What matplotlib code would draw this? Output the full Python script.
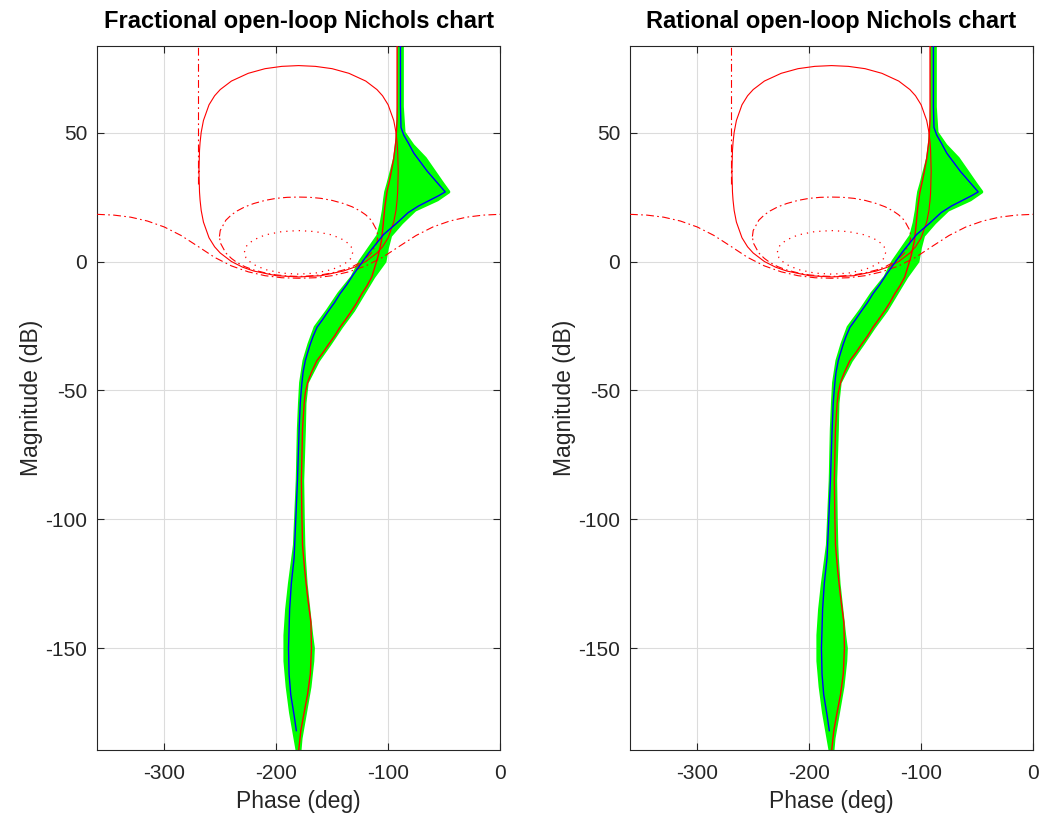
import matplotlib
matplotlib.use("Agg")
import matplotlib.pyplot as plt

plt.rcParams['font.family'] = ['Liberation Sans', 'DejaVu Sans']
plt.rcParams['axes.unicode_minus'] = False

titles = ["Fractional open-loop Nichols chart", "Rational open-loop Nichols chart"]
x_ticks = [-300, -200, -100, 0]
y_ticks = [-150, -100, -50, 0, 50]

# closed-loop contours (phase deg, magnitude dB)
m1_phase = [-360, -345, -330, -315, -300, -285, -270, -255, -240, -225, -210, -195, -180,
            -165, -150, -135, -120, -105, -90, -75, -60, -45, -30, -15, 0]
m1_mag = [18.3, 18.0, 17.2, 15.7, 13.4, 10.1, 5.9, 1.6, -1.7, -4.0, -5.5, -6.3, -6.5,
          -6.3, -5.5, -4.0, -1.7, 1.6, 5.9, 10.1, 13.4, 15.7, 17.2, 18.0, 18.3]

m05_phase = [-250.7, -250, -245, -240, -235, -228, -220, -210, -200, -190, -180, -170, -160,
             -150, -140, -132, -125, -120, -115, -110, -109.3,
             -110, -115, -120, -125, -132, -140, -150, -160, -170, -180, -190, -200,
             -210, -220, -228, -235, -240, -245, -250, -250.7]
m05_mag = [9.7, 12.0, 16.0, 18.1, 19.6, 21.2, 22.5, 23.7, 24.5, 24.9, 25.0, 24.9, 24.5,
           23.7, 22.5, 21.2, 19.6, 18.1, 16.0, 12.0, 9.7,
           7.3, 3.3, 1.2, -0.4, -2.0, -3.3, -4.4, -5.2, -5.6, -5.8, -5.6, -5.2,
           -4.4, -3.3, -2.0, -0.4, 1.2, 3.3, 7.3, 9.7]

m25_phase = [-228.4, -227, -225, -220, -210, -195, -180, -165, -150, -140, -135, -133, -131.6,
             -133, -135, -140, -150, -165, -180, -195, -210, -220, -225, -227, -228.4]
m25_mag = [3.6, 5.7, 6.8, 8.4, 10.3, 11.6, 12.0, 11.6, 10.3, 8.4, 6.8, 5.7, 3.6,
           1.4, 0.4, -1.2, -3.1, -4.5, -4.9, -4.5, -3.1, -1.2, 0.4, 1.4, 3.6]

m0_phase = [-269, -268.5, -268, -267, -265, -260, -255, -250, -240, -225, -210, -195, -180,
            -165, -150, -135, -120, -110, -105, -100, -95, -93, -92, -91.5, -91,
            -91.5, -92, -93, -95, -100, -105, -110, -120, -130, -140, -160, -180,
            -200, -220, -230, -240, -250, -255, -260, -265, -267, -268, -268.5, -269]
m0_mag = [35, 43.1, 46.2, 50.1, 54.7, 60.8, 64.3, 66.7, 70.0, 73.0, 74.8, 75.7, 76.0,
          75.7, 74.8, 73.0, 70.0, 66.7, 64.3, 60.8, 54.7, 50.1, 46.2, 43.1, 35,
          26.9, 23.8, 19.8, 15.3, 9.2, 5.7, 3.3, 0.0, -2.2, -3.7, -5.5, -6.0,
          -5.5, -3.7, -2.2, 0.0, 3.3, 5.7, 9.2, 15.3, 19.8, 23.8, 26.9, 35]

asym_phase = [-270, -270]
asym_mag = [30, 95]

# open-loop responses (phase deg, magnitude dB)
blue_phase = [-89, -89, -88.5, -86, -82, -77, -71, -65, -59, -54, -49, -55, -64, -73, -82,
              -92, -104, -117, -131, -137, -143, -148, -153, -158.5, -163.5, -167, -169.5,
              -172, -174, -176, -177, -178, -178.5, -179.5, -181, -182.5, -184, -186.5,
              -188, -189, -188.5, -187, -184, -182]
blue_mag = [95, 60, 52, 49, 46, 42, 38.5, 35, 32, 29.5, 27, 25.5, 23.5, 21.5, 19,
            15, 10.5, 3.5, -5, -9, -12.5, -16, -19, -22.5, -25.5, -29, -32,
            -35.5, -38.5, -43, -47, -52, -55, -65, -85, -100, -115, -125,
            -135, -150, -160, -168, -176, -182]

red_phase = [-92, -92, -93, -95, -98, -101, -103, -104.5, -106, -109, -114.6, -119, -123.5,
             -128, -132.4, -138, -143, -148, -153, -158.5, -163.7, -168.5, -172, -174,
             -175, -176.5, -177.5, -177, -176.5, -174.5, -172, -169, -168.5, -169.5, -172,
             -175.5, -178, -180]
red_mag = [95, 55, 47, 40, 33, 27, 21, 14, 8, 2, -6, -9.5, -12.5,
           -16, -19, -22.5, -25.5, -29, -32, -35.5, -38.5, -43, -47, -51,
           -55, -65, -85, -100, -110, -120, -130, -140, -150, -160, -168,
           -176, -182, -190]

band_mag = [95, 60, 50, 45, 40, 35, 30, 27, 24, 20, 15, 10, 5, 0, -6, -12.5, -19, -25.5,
            -32, -38.5, -47, -55, -65, -85, -100, -110, -115, -125, -135, -145, -150,
            -155, -165, -175, -185, -190]
band_left = [-90.5, -90.5, -91.5, -92.5, -94, -97, -100, -102, -103, -104, -106, -109, -117,
             -125, -132, -144, -154, -165, -170.5, -175, -178, -179, -180, -181, -182.5,
             -183.5, -185, -188, -190.5, -192, -192, -192, -190, -187, -183, -181]
band_right = [-87.5, -87.5, -86, -78, -67, -59, -51, -46, -56, -76, -88, -98, -101, -103,
              -113, -122, -131, -142, -152, -162.5, -172.5, -174.5, -175, -176.5, -176,
              -175.5, -175, -173.5, -171, -168.5, -167, -167.5, -170, -174, -178, -179]

fig = plt.figure(figsize=(10.44, 8.26), dpi=100)
axes = [fig.add_axes([0.093, 0.092, 0.386, 0.852]),
        fig.add_axes([0.6035, 0.092, 0.386, 0.852])]

dashdot = (0, (7, 3, 1.5, 3))
txt = '#262626'
for ax, title in zip(axes, titles):
    ax.fill_betweenx(band_mag, band_left, band_right, color=(0, 1, 0), lw=0, zorder=2)
    ax.plot(band_left, band_mag, color=(0, 1, 0), lw=2.5, zorder=2)
    ax.plot(band_right, band_mag, color=(0, 1, 0), lw=2.5, zorder=2)

    ax.plot(m0_phase, m0_mag, color='red', lw=0.8, zorder=3)
    ax.plot(m1_phase, m1_mag, color='red', lw=0.8, ls=dashdot, zorder=3)
    ax.plot(m05_phase, m05_mag, color='red', lw=0.8, ls=dashdot, zorder=3)
    ax.plot(m25_phase, m25_mag, color='red', lw=0.9, ls=(0, (1, 4)), zorder=3)
    ax.plot(asym_phase, asym_mag, color='red', lw=0.8, ls=dashdot, zorder=3)

    ax.plot(red_phase, red_mag, color='red', lw=1.0, zorder=4)
    ax.plot(blue_phase, blue_mag, color='blue', lw=1.0, zorder=5)

    ax.set_xlim(-360, 0)
    ax.set_ylim(-189.5, 83.5)
    ax.set_xticks(x_ticks)
    ax.set_yticks(y_ticks)
    ax.grid(True, color='#dcdcdc', lw=0.8)
    ax.set_axisbelow(True)
    ax.tick_params(direction='in', top=True, right=True, length=5, width=0.8,
                   labelsize=15, colors=txt)
    ax.tick_params(axis='x', pad=10)
    ax.tick_params(axis='y', pad=7)
    for s in ax.spines.values():
        s.set_color(txt)
        s.set_linewidth(0.8)
    ax.set_title(title, fontsize=17, fontweight='bold', pad=13)
    ax.set_xlabel('Phase (deg)', fontsize=16.5, color=txt, labelpad=5)
    ax.set_ylabel('Magnitude (dB)', fontsize=16.5, color=txt, labelpad=2)

fig.savefig('out.png', dpi=100)
